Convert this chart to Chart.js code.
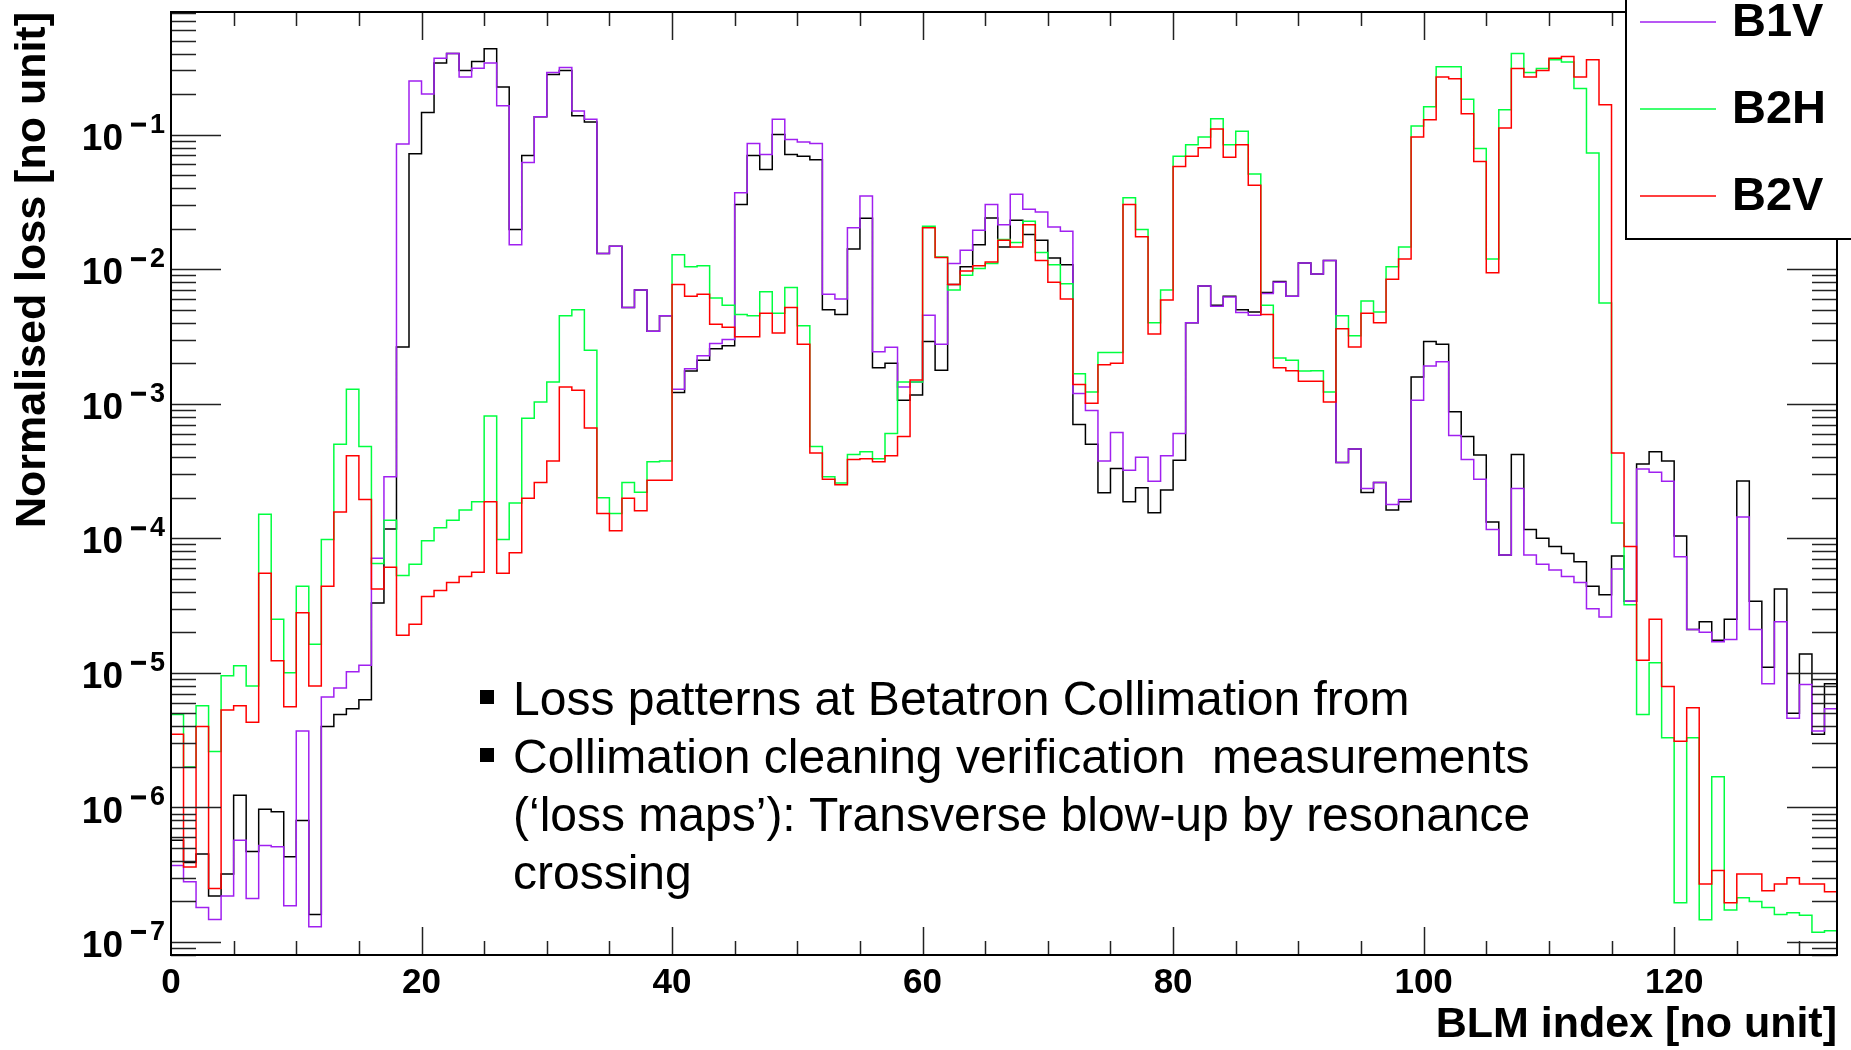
<!DOCTYPE html>
<html>
<head>
<meta charset="utf-8">
<title>BLM loss maps</title>
<script src="https://cdn.jsdelivr.net/npm/chart.js@4.4.1/dist/chart.umd.min.js"></script>
<style>
  html, body { margin: 0; padding: 0; background: #fff; }
  #wrap { width: 1851px; height: 1050px; }
</style>
</head>
<body>
<div id="wrap"><canvas id="lossChart" width="1851" height="1050"></canvas></div>
<script>
// normalised loss per BLM (133 monitors), one array per beam/plane
const b1h = [
  5.7e-7, 3.9e-7, 4.5e-7, 2.2e-7, 3.2e-7, 1.23e-6, 4.7e-7, 9.7e-7, 9.3e-7, 4.3e-7,
  8.0e-7, 1.6e-7, 4.0e-6, 4.9e-6, 5.4e-6, 6.3e-6, 3.3e-5, 1.17e-4, 2.64e-3, 0.072,
  0.146, 0.34, 0.40, 0.30, 0.35, 0.435, 0.226, 0.0197, 0.070, 0.136,
  0.28, 0.30, 0.138, 0.124, 0.0131, 0.0148, 0.0052, 0.0070, 0.00346, 0.0045,
  0.00121, 0.00175, 0.0021, 0.00256, 0.0027, 0.0303, 0.070, 0.055, 0.100, 0.071,
  0.069, 0.065, 0.0050, 0.0046, 0.0141, 0.0239, 0.00185, 0.0020, 0.00106, 0.00116,
  0.0029, 0.00177, 0.0077, 0.0104, 0.0152, 0.024, 0.0146, 0.0231, 0.0181, 0.0164,
  0.0121, 0.0108, 7.0e-4, 5.0e-4, 2.18e-4, 3.3e-4, 1.87e-4, 2.37e-4, 1.55e-4, 2.28e-4,
  3.8e-4, 0.0040, 0.0075, 0.0054, 0.0063, 0.0050, 0.0048, 0.0067, 0.0081, 0.0063,
  0.0111, 0.0092, 0.0116, 3.65e-4, 4.6e-4, 2.19e-4, 2.6e-4, 1.62e-4, 1.87e-4, 1.58e-3,
  2.9e-3, 2.77e-3, 8.7e-4, 5.7e-4, 4.15e-4, 1.32e-4, 7.5e-5, 4.2e-4, 1.16e-4, 1.0e-4,
  8.7e-5, 7.7e-5, 6.7e-5, 4.4e-5, 3.8e-5, 7.4e-5, 3.4e-5, 3.56e-4, 4.4e-4, 3.76e-4,
  1.04e-4, 2.1e-5, 2.4e-5, 1.75e-5, 2.5e-5, 2.67e-4, 3.4e-5, 1.1e-5, 4.2e-5, 5.0e-6,
  1.38e-5, 3.5e-6, 8.3e-6
];
const b1v = [
  3.7e-7, 2.8e-7, 1.8e-7, 1.47e-7, 2.2e-7, 5.7e-7, 2.1e-7, 5.2e-7, 5.1e-7, 1.86e-7,
  3.7e-6, 1.3e-7, 6.6e-6, 7.7e-6, 1.02e-5, 1.14e-5, 7.1e-5, 2.86e-4, 0.085, 0.25,
  0.20, 0.37, 0.40, 0.268, 0.311, 0.34, 0.164, 0.0152, 0.062, 0.136,
  0.29, 0.315, 0.15, 0.13, 0.0131, 0.0148, 0.0052, 0.0070, 0.00346, 0.0045,
  0.00128, 0.00182, 0.00227, 0.0028, 0.0030, 0.0369, 0.086, 0.071, 0.13, 0.092,
  0.088, 0.086, 0.0065, 0.0060, 0.0203, 0.035, 0.00243, 0.00263, 0.00133, 0.00145,
  0.00455, 0.00277, 0.011, 0.0138, 0.0195, 0.0303, 0.0214, 0.036, 0.0279, 0.0266,
  0.0206, 0.0191, 1.19e-3, 8.9e-4, 3.76e-4, 6.1e-4, 3.2e-4, 4.0e-4, 2.65e-4, 4.1e-4,
  6.0e-4, 0.0040, 0.0075, 0.0053, 0.0062, 0.00476, 0.00455, 0.0066, 0.0080, 0.0063,
  0.0111, 0.0092, 0.0116, 3.65e-4, 4.6e-4, 2.34e-4, 2.6e-4, 1.78e-4, 1.94e-4, 1.06e-3,
  1.91e-3, 2.05e-3, 5.8e-4, 3.85e-4, 2.75e-4, 1.16e-4, 7.5e-5, 2.34e-4, 7.5e-5, 6.4e-5,
  5.8e-5, 5.2e-5, 4.7e-5, 3.0e-5, 2.6e-5, 5.9e-5, 3.4e-5, 3.27e-4, 3.1e-4, 2.65e-4,
  7.3e-5, 2.1e-5, 2.0e-5, 1.7e-5, 1.77e-5, 1.44e-4, 2.1e-5, 8.3e-6, 2.4e-5, 4.6e-6,
  8.2e-6, 3.7e-6, 5.4e-6
];
const b2h = [
  4.9e-6, 2.0e-6, 5.7e-6, 2.6e-6, 9.5e-6, 1.13e-5, 8.0e-6, 1.51e-4, 2.5e-5, 1.0e-5,
  4.4e-5, 1.63e-5, 9.8e-5, 5.0e-4, 1.28e-3, 4.8e-4, 6.5e-5, 1.36e-4, 5.3e-5, 6.4e-5,
  9.6e-5, 1.2e-4, 1.36e-4, 1.62e-4, 1.87e-4, 8.1e-4, 9.8e-5, 1.83e-4, 7.8e-4, 1.03e-3,
  1.45e-3, 4.5e-3, 5.0e-3, 2.5e-3, 2.0e-4, 1.53e-4, 2.6e-4, 2.2e-4, 3.7e-4, 3.76e-4,
  0.0128, 0.0104, 0.0106, 0.0061, 0.0054, 0.0046, 0.0045, 0.0068, 0.0047, 0.0073,
  0.0038, 4.8e-4, 2.86e-4, 2.58e-4, 4.2e-4, 4.4e-4, 3.9e-4, 6.0e-4, 1.45e-3, 1.45e-3,
  0.0208, 0.0123, 0.0070, 0.0090, 0.0101, 0.011, 0.0166, 0.0158, 0.0227, 0.0133,
  0.0108, 0.0078, 1.67e-3, 1.22e-3, 2.4e-3, 2.4e-3, 0.034, 0.0197, 0.0040, 0.0070,
  0.069, 0.084, 0.096, 0.131, 0.084, 0.106, 0.051, 0.0054, 2.19e-3, 2.1e-3,
  1.75e-3, 1.76e-3, 1.22e-3, 4.5e-3, 3.2e-3, 5.8e-3, 4.8e-3, 0.0104, 0.0146, 0.116,
  0.161, 0.32, 0.32, 0.183, 0.079, 0.0119, 0.153, 0.40, 0.29, 0.31,
  0.36, 0.347, 0.22, 0.073, 0.0056, 1.3e-4, 3.2e-5, 4.9e-6, 1.19e-5, 3.3e-6,
  1.96e-7, 3.3e-6, 1.46e-7, 1.69e-6, 1.73e-7, 2.13e-7, 2.0e-7, 1.8e-7, 1.6e-7, 1.65e-7,
  1.58e-7, 1.18e-7, 1.21e-7
];
const b2v = [
  3.5e-6, 3.6e-7, 4.0e-6, 2.5e-7, 5.3e-6, 5.7e-6, 4.3e-6, 5.5e-5, 1.23e-5, 5.6e-6,
  2.8e-5, 8.0e-6, 4.4e-5, 1.57e-4, 4.1e-4, 1.94e-4, 4.2e-5, 6.1e-5, 1.9e-5, 2.3e-5,
  3.7e-5, 4.1e-5, 4.7e-5, 5.2e-5, 5.6e-5, 1.87e-4, 5.5e-5, 7.8e-5, 1.98e-4, 2.6e-4,
  3.76e-4, 1.33e-3, 1.26e-3, 6.6e-4, 1.53e-4, 1.14e-4, 1.98e-4, 1.6e-4, 2.7e-4, 2.7e-4,
  7.7e-3, 6.3e-3, 6.5e-3, 3.9e-3, 3.7e-3, 3.14e-3, 3.14e-3, 4.7e-3, 3.36e-3, 5.2e-3,
  2.77e-3, 4.3e-4, 2.75e-4, 2.5e-4, 3.85e-4, 3.9e-4, 3.7e-4, 4.1e-4, 5.7e-4, 1.5e-3,
  0.0203, 0.0122, 0.0077, 0.0097, 0.0106, 0.0113, 0.0164, 0.0146, 0.0214, 0.0116,
  0.0080, 0.0060, 1.39e-3, 1.01e-3, 1.95e-3, 2.0e-3, 0.0303, 0.0174, 3.3e-3, 5.9e-3,
  0.058, 0.069, 0.080, 0.110, 0.068, 0.084, 0.042, 0.0046, 1.85e-3, 1.76e-3,
  1.47e-3, 1.47e-3, 1.03e-3, 3.6e-3, 2.64e-3, 4.7e-3, 4.0e-3, 8.4e-3, 0.0119, 0.096,
  0.129, 0.268, 0.26, 0.143, 0.063, 0.0094, 0.112, 0.31, 0.268, 0.30,
  0.37, 0.38, 0.268, 0.36, 0.167, 4.3e-4, 8.7e-5, 1.24e-5, 2.5e-5, 7.9e-6,
  3.1e-6, 5.5e-6, 2.7e-7, 3.4e-7, 1.96e-7, 3.2e-7, 3.2e-7, 2.4e-7, 2.7e-7, 3.0e-7,
  2.7e-7, 2.7e-7, 2.36e-7
];

const seriesNames = ['B1H', 'B1V', 'B2H', 'B2V'];
const seriesColors = ['#000000', '#a020f0', '#00ff40', '#ff0000'];
const xTickLabels = [0, 20, 40, 60, 80, 100, 120];
const yDecades = [-1, -2, -3, -4, -5, -6, -7];
const noteLines = [
  'Loss patterns at Betatron Collimation from',
  'Collimation cleaning verification  measurements',
  '(\u2018loss maps\u2019): Transverse blow-up by resonance',
  'crossing'
];
const noteBullets = [true, true, false, false];

const FONT = '"Liberation Sans", Arial, Helvetica, sans-serif';

// histogram outline: one point per bin centre plus the two outer edges
function histSteps(values) {
  const pts = [{ x: 0, y: values[0] }];
  values.forEach((v, i) => pts.push({ x: i + 0.5, y: v }));
  pts.push({ x: values.length, y: values[values.length - 1] });
  return pts;
}

// ROOT-like frame: inner ticks on all sides, 10^n labels, titles, legend and note
const rootFrame = {
  id: 'rootFrame',
  afterDatasetsDraw(chart) {
    const { ctx, chartArea: a } = chart;
    const xs = chart.scales.x, ys = chart.scales.y;
    ctx.save();

    ctx.strokeStyle = '#222';
    ctx.lineWidth = 1.5;
    ctx.beginPath();
    for (let d = -8; d <= 0; d++) {
      for (let k = 1; k <= 9; k++) {
        const v = k * Math.pow(10, d);
        if (v < ys.min || v > ys.max) continue;
        const py = Math.round(ys.getPixelForValue(v)) + 0.5;
        const len = k === 1 ? 50 : 25;
        ctx.moveTo(a.left, py); ctx.lineTo(a.left + len, py);
        ctx.moveTo(a.right, py); ctx.lineTo(a.right - len, py);
      }
    }
    for (let t = 5; t < xs.max; t += 5) {
      const px = Math.round(xs.getPixelForValue(t)) + 0.5;
      const len = t % 20 === 0 ? 28 : 14;
      ctx.moveTo(px, a.bottom); ctx.lineTo(px, a.bottom - len);
      ctx.moveTo(px, a.top); ctx.lineTo(px, a.top + len);
    }
    ctx.stroke();

    ctx.strokeStyle = '#000';
    ctx.lineWidth = 2;
    ctx.strokeRect(a.left, a.top, a.right - a.left, a.bottom - a.top);

    // axis numbers
    ctx.fillStyle = '#000';
    ctx.font = 'bold 35px ' + FONT;
    ctx.textAlign = 'center';
    ctx.textBaseline = 'middle';
    xTickLabels.forEach(t => ctx.fillText(String(t), xs.getPixelForValue(t), a.bottom + 28));

    // 10^n labels: base and raised exponent
    yDecades.forEach(d => {
      const py = ys.getPixelForValue(Math.pow(10, d));
      ctx.textAlign = 'right';
      ctx.font = 'bold 27px ' + FONT;
      ctx.textBaseline = 'alphabetic';
      ctx.fillText(String(Math.abs(d)), a.left - 6, py - 2);
      const digitW = ctx.measureText(String(Math.abs(d))).width;
      ctx.fillRect(a.left - 6 - digitW - 19, py - 12, 15, 4);
      ctx.font = 'bold 37px ' + FONT;
      ctx.textBaseline = 'middle';
      ctx.fillText('10', a.left - 48, py + 5);
    });

    // axis titles
    ctx.font = 'bold 43px ' + FONT;
    ctx.textAlign = 'right';
    ctx.textBaseline = 'middle';
    ctx.fillText('BLM index [no unit]', a.right, 1025);
    ctx.save();
    ctx.translate(33, a.top);
    ctx.rotate(-Math.PI / 2);
    ctx.fillText('Normalised loss [no unit]', 0, 0);
    ctx.restore();

    // legend box in the top right corner
    ctx.fillStyle = '#fff';
    ctx.fillRect(1626, -10, 240, 249);
    ctx.strokeStyle = '#000';
    ctx.lineWidth = 2;
    ctx.strokeRect(1626, -10, 240, 249);
    ctx.font = 'bold 47px ' + FONT;
    ctx.textAlign = 'left';
    ctx.textBaseline = 'middle';
    seriesNames.forEach((name, i) => {
      const ly = 196 - (seriesNames.length - 1 - i) * 87;
      ctx.strokeStyle = seriesColors[i];
      ctx.lineWidth = 1.5;
      ctx.beginPath();
      ctx.moveTo(1640, ly); ctx.lineTo(1716, ly);
      ctx.stroke();
      ctx.fillStyle = '#000';
      ctx.fillText(name, 1732, ly + 1);
    });

    // bullet note
    ctx.font = '48px ' + FONT;
    ctx.textBaseline = 'alphabetic';
    noteLines.forEach((line, i) => {
      const base = 715 + i * 58;
      if (noteBullets[i]) ctx.fillRect(480, base - 25, 14, 14);
      ctx.fillText(line, 513, base);
    });

    ctx.restore();
  }
};

const series = [b1h, b1v, b2h, b2v];

new Chart(document.getElementById('lossChart'), {
  type: 'line',
  data: {
    datasets: series.map((vals, i) => ({
      label: seriesNames[i],
      data: histSteps(vals),
      borderColor: seriesColors[i],
      borderWidth: 1.5,
      stepped: 'middle',
      fill: false,
      pointRadius: 0,
      order: series.length - i
    }))
  },
  options: {
    responsive: false,
    animation: false,
    devicePixelRatio: 1,
    layout: { padding: { left: 171, right: 14, top: 12, bottom: 95 } },
    plugins: { legend: { display: false }, tooltip: { enabled: false } },
    scales: {
      x: { type: 'linear', min: 0, max: 133, display: false },
      y: { type: 'logarithmic', min: 8.0e-8, max: 0.815, display: false }
    }
  },
  plugins: [rootFrame]
});
</script>
</body>
</html>
